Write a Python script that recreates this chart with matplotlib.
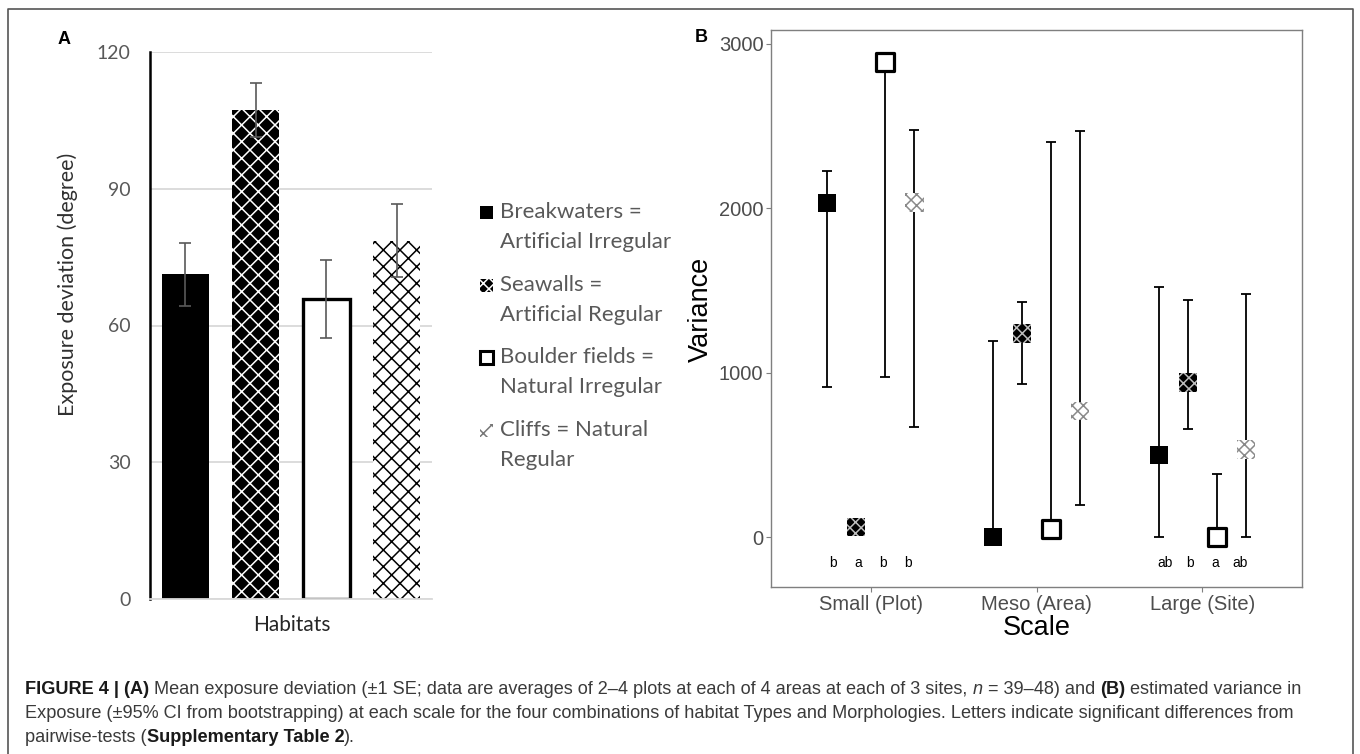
import matplotlib
matplotlib.use('Agg')
import matplotlib.pyplot as plt
from matplotlib.patches import Rectangle
from matplotlib.lines import Line2D
import numpy as np

W, H = 1360, 754

# ---- panel A data ----
habitats = ['Breakwaters', 'Seawalls', 'Boulder fields', 'Cliffs']
legend_lines = [['Breakwaters =', 'Artificial Irregular'],
                ['Seawalls =', 'Artificial Regular'],
                ['Boulder fields =', 'Natural Irregular'],
                ['Cliffs = Natural', 'Regular']]
mean_dev = [71.2, 107.3, 65.8, 78.6]
se_dev = [7.0, 6.0, 8.5, 8.0]
yticks_a = [0, 30, 60, 90, 120]

# ---- panel B data ----
scales = ['Small (Plot)', 'Meso (Area)', 'Large (Site)']
var_breakwaters = [2030, 0, 499]
lo_breakwaters = [911, 0, 0]
hi_breakwaters = [2225, 1194, 1523]
var_seawalls = [62, 1240, 940]
lo_seawalls = [62, 933, 655]
hi_seawalls = [62, 1432, 1444]
var_boulder = [2890, 46, 0]
lo_boulder = [971, 0, 0]
hi_boulder = [2900, 2405, 386]
var_cliffs = [2035, 767, 532]
lo_cliffs = [667, 192, 0]
hi_cliffs = [2477, 2470, 1480]
letters_small = ['b', 'a', 'b', 'b']
letters_meso = ['', '', '', '']
letters_large = ['ab', 'b', 'a', 'ab']
yticks_b = [0, 1000, 2000, 3000]

caption = [
    [("FIGURE 4 | (A)", 'b', False),
     ("Mean exposure deviation (\u00b11 SE; data are averages of 2\u20134 plots at each of 4 areas at each of 3 sites,", 'n', True),
     ("n", 'i', True), ("= 39\u201348) and", 'n', True), ("(B)", 'b', True),
     ("estimated variance in", 'n', True)],
    [("Exposure (\u00b195% CI from bootstrapping) at each scale for the four combinations of habitat Types and Morphologies. "
      "Letters indicate significant differences from", 'n', False)],
    [("pairwise-tests (", 'n', False), ("Supplementary Table 2", 'b', False), (").", 'n', False)],
]

plt.rcParams['hatch.linewidth'] = 1.1


def fx(x):
    return x / W


def fy(y):
    return 1 - y / H


fig = plt.figure(figsize=(W / 100, H / 100), dpi=100)

# outer frame
fig.add_artist(Line2D([fx(8), fx(8), fx(1353), fx(1353)], [fy(754), fy(9), fy(9), fy(754)],
                      transform=fig.transFigure, color='#555555', lw=1.2))

# ================= panel A =================
axA = fig.add_axes([fx(150), fy(599), 282 / W, 547 / H])
xa = np.arange(len(habitats))
bar_styles = [dict(facecolor='black', edgecolor='black', linewidth=0),
              dict(facecolor='black', edgecolor='white', hatch='xx', linewidth=0),
              dict(facecolor='white', edgecolor='black', linewidth=2.4),
              dict(facecolor='white', edgecolor='black', hatch='xx', linewidth=0)]
for i in range(len(habitats)):
    axA.bar(xa[i], mean_dev[i], width=0.67, zorder=2, **bar_styles[i])
axA.errorbar(xa, mean_dev, yerr=se_dev, fmt='none', ecolor='#595959',
             elinewidth=1.2, capsize=4.5, capthick=1.2, zorder=3)
axA.set_xlim(-0.5, 3.5)
axA.set_ylim(0, 120)
axA.set_yticks(yticks_a)
axA.set_xticks([])
axA.yaxis.grid(True, color='#d9d9d9', lw=1.3)
axA.set_axisbelow(True)
for s in ['top', 'right']:
    axA.spines[s].set_visible(False)
axA.spines['bottom'].set_color('#d9d9d9')
axA.spines['bottom'].set_linewidth(1.3)
axA.spines['left'].set_color('black')
axA.spines['left'].set_linewidth(1.8)
axA.tick_params(axis='y', length=0, pad=14, labelsize=14, labelcolor='#595959')
for lab in axA.get_yticklabels():
    lab.set_family('Lato')

fig.text(fx(68), fy(284), 'Exposure deviation (degree)', rotation=90, ha='center', va='center',
         fontsize=15.5, family='Lato', color='#303030')
fig.text(fx(292), fy(625), 'Habitats', ha='center', va='center', fontsize=15,
         family='Lato', color='#262626')
fig.text(fx(64), fy(39), 'A', ha='center', va='center', fontsize=13, fontweight='bold',
         family='Liberation Sans')

# legend for panel A
icon_styles = [dict(facecolor='black', edgecolor='black', linewidth=0),
               dict(facecolor='black', edgecolor='white', hatch='xxx', linewidth=0),
               dict(facecolor='white', edgecolor='black', linewidth=2.2),
               dict(facecolor='white', edgecolor='#777777', hatch='xx', linewidth=0)]
for i, lines in enumerate(legend_lines):
    y0 = 212 + 72.7 * i
    fig.add_artist(Rectangle((fx(480), fy(y0 + 7)), 13 / W, 13 / H, transform=fig.transFigure,
                             **icon_styles[i]))
    for j, ln in enumerate(lines):
        fig.text(fx(500), fy(y0 + 30 * j), ln, ha='left', va='center', fontsize=16,
                 family='Lato', color='#595959')

# ================= panel B =================
axB = fig.add_axes([fx(771), fy(587), 531 / W, 557 / H])
dodge = [-0.263, -0.087, 0.087, 0.263]
letter_dodge = [-0.225, -0.075, 0.075, 0.225]
xb = np.arange(1, len(scales) + 1)
series = [(var_breakwaters, lo_breakwaters, hi_breakwaters),
          (var_seawalls, lo_seawalls, hi_seawalls),
          (var_boulder, lo_boulder, hi_boulder),
          (var_cliffs, lo_cliffs, hi_cliffs)]
marker_styles = [dict(s=180, facecolors='black', edgecolors='black', linewidths=0),
                 dict(s=180, facecolors='black', edgecolors='#bdbdbd', hatch='xxx', linewidths=0),
                 dict(s=155, facecolors='white', edgecolors='black', linewidths=2.3),
                 dict(s=180, facecolors='white', edgecolors='#8a8a8a', hatch='xxx', linewidths=0)]
for i, (v, lo, hi) in enumerate(series):
    v = np.array(v, float)
    yerr = [v - np.array(lo), np.array(hi) - v]
    axB.errorbar(xb + dodge[i], v, yerr=yerr, fmt='none', ecolor='black',
                 elinewidth=1.3, capsize=3.8, capthick=1.3, zorder=2)
    axB.scatter(xb + dodge[i], v, marker='s', zorder=3, **marker_styles[i])

for k, letters in enumerate([letters_small, letters_meso, letters_large]):
    for i, t in enumerate(letters):
        if t:
            axB.text(xb[k] + letter_dodge[i], -156, t, ha='center', va='center',
                     fontsize=10, family='Liberation Sans', color='black')

axB.set_xlim(0.4, 3.6)
axB.set_ylim(-304, 3085)
axB.set_xticks(xb)
axB.set_xticklabels(scales)
axB.set_yticks(yticks_b)
for s in axB.spines.values():
    s.set_color('#7f7f7f')
    s.set_linewidth(1.0)
axB.tick_params(length=3.5, width=0.8, color='#7f7f7f', labelsize=14.5, labelcolor='#4d4d4d', pad=2)
for lab in axB.get_xticklabels() + axB.get_yticklabels():
    lab.set_family('Liberation Sans')

fig.text(fx(701), fy(309), 'Variance', rotation=90, ha='center', va='center', fontsize=19.5,
         family='Liberation Sans', color='black')
fig.text(fx(1037), fy(628), 'Scale', ha='center', va='center', fontsize=19.5,
         family='Liberation Sans', color='black')
fig.text(fx(701), fy(37), 'B', ha='center', va='center', fontsize=13, fontweight='bold',
         family='Liberation Sans')

# ================= caption =================
renderer = fig.canvas.get_renderer()
styles = {'n': dict(color='#3a3a3a'), 'b': dict(color='#1a1a1a', fontweight='bold'),
          'i': dict(color='#3a3a3a', style='italic')}


def text_width(s, size, **kw):
    t = fig.text(0, 0, s, fontsize=size, family='Liberation Sans', **kw)
    w = t.get_window_extent(renderer=renderer).width
    t.remove()
    return w


def line_width(pieces, size):
    sp = text_width('a a', size) - text_width('aa', size)
    w = 0
    for txt, st, gap in pieces:
        if gap:
            w += sp
        w += text_width(txt, size, **styles[st])
    return w


size = 11 * 1275 / line_width(caption[0], 11)
space = text_width('a a', size) - text_width('aa', size)
for y, pieces in zip([689, 713, 738], caption):
    x = 25
    for txt, st, gap in pieces:
        if gap:
            x += space
        t = fig.text(fx(x), fy(y), txt, fontsize=size, family='Liberation Sans',
                     ha='left', va='center', **styles[st])
        x += t.get_window_extent(renderer=renderer).width

fig.savefig('out.png', dpi=100)
